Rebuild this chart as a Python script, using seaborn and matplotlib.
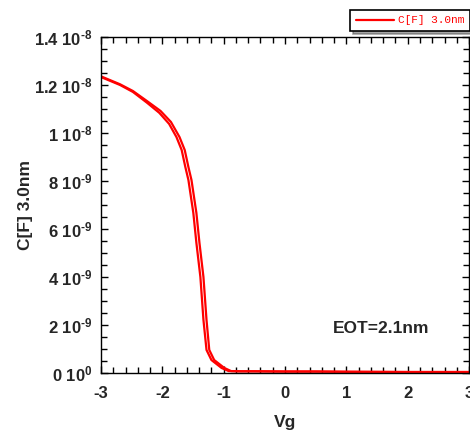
import numpy as np
import pandas as pd
import matplotlib
matplotlib.use("Agg")
import matplotlib.pyplot as plt
from matplotlib.ticker import FixedLocator, FixedFormatter, MultipleLocator
import seaborn as sns

# ------------------------------------------
# Data, C in units of 1e-9 F
# ------------------------------------------
vg_fwd = [-3.0, -2.69, -2.48, -2.25, -2.05, -1.89, -1.77, -1.685, -1.625, -1.575,
          -1.495, -1.445, -1.38, -1.33, -1.28, -1.20, -1.035, -0.92, -0.75,
          -0.5, 0.0, 0.5, 1.0, 2.0, 3.0]
c_fwd = [12.33, 12.00, 11.71, 11.26, 10.84, 10.38, 9.83, 9.29, 8.58, 8.04,
         6.67, 5.42, 4.00, 2.21, 0.96, 0.54, 0.21, 0.08, 0.07,
         0.07, 0.06, 0.06, 0.05, 0.04, 0.04]

vg_rev = [-3.0, -2.69, -2.48, -2.25, -2.03, -1.86, -1.72, -1.635, -1.575, -1.525,
          -1.445, -1.395, -1.33, -1.28, -1.235, -1.155, -0.99, -0.88, -0.72,
          -0.5, 0.0, 0.5, 1.0, 2.0, 3.0]
c_rev = [12.36, 12.03, 11.75, 11.33, 10.92, 10.46, 9.83, 9.29, 8.58, 8.04,
         6.67, 5.42, 4.00, 2.21, 0.96, 0.54, 0.21, 0.08, 0.07,
         0.07, 0.06, 0.06, 0.05, 0.04, 0.04]

y_ticks = [0, 2e-9, 4e-9, 6e-9, 8e-9, 1e-8, 1.2e-8, 1.4e-8]
y_labels = ["0 10$^{0}$", "2 10$^{\\text{-9}}$", "4 10$^{\\text{-9}}$", "6 10$^{\\text{-9}}$",
            "8 10$^{\\text{-9}}$", "1 10$^{\\text{-8}}$", "1.2 10$^{\\text{-8}}$",
            "1.4 10$^{\\text{-8}}$"]
x_ticks = [-3, -2, -1, 0, 1, 2, 3]

df = pd.concat([
    pd.DataFrame({"Vg": vg_fwd, "C": np.array(c_fwd) * 1e-9, "sweep": "fwd"}),
    pd.DataFrame({"Vg": vg_rev, "C": np.array(c_rev) * 1e-9, "sweep": "rev"}),
])

# ------------------------------------------
# Plot
# ------------------------------------------
sns.set_style("ticks")
plt.rcParams["font.family"] = ["Liberation Sans", "DejaVu Sans"]
plt.rcParams["mathtext.fontset"] = "custom"
plt.rcParams["mathtext.rm"] = "Liberation Sans:bold"
plt.rcParams["mathtext.default"] = "rm"

fig = plt.figure(figsize=(4.7, 4.3), dpi=100)
ax = fig.add_axes([0.2149, 0.1326, 0.7831, 0.7814])

sns.lineplot(data=df, x="Vg", y="C", hue="sweep", palette=["#ff0000", "#ff0000"],
             linewidth=1.6, legend=False, ax=ax, sort=False, estimator=None)

ax.set_xlim(-3, 3)
ax.set_ylim(0, 1.4e-8)
ax.xaxis.set_major_locator(FixedLocator(x_ticks))
ax.xaxis.set_minor_locator(MultipleLocator(0.2))
ax.yaxis.set_major_locator(FixedLocator(y_ticks))
ax.yaxis.set_major_formatter(FixedFormatter(y_labels))
ax.yaxis.set_minor_locator(MultipleLocator(5e-10))

ax.tick_params(which="both", direction="in", top=True, right=True, width=1, color="black")
ax.tick_params(which="major", length=5, labelsize=12)
ax.tick_params(which="minor", length=4)
ax.tick_params(axis="x", which="major", pad=9.5)
ax.tick_params(axis="y", which="major", pad=6)
ax.set_xticklabels([str(t) for t in x_ticks], fontweight="bold")
for lbl in ax.get_yticklabels():
    lbl.set_fontweight("bold")
for sp in ax.spines.values():
    sp.set_visible(True)
    sp.set_color("black")
    sp.set_linewidth(1)

ax.set_xlabel("Vg", fontsize=12.5, fontweight="bold", labelpad=10)
ax.set_ylabel("C[F] 3.0nm", fontsize=12.5, fontweight="bold", labelpad=1)

ax.text(0.63, 0.12, "EOT=2.1nm", transform=ax.transAxes, fontsize=12.5, fontweight="bold")

handle = ax.get_lines()[0]
leg = fig.legend([handle], ["C[F] 3.0nm"], loc="upper right", bbox_to_anchor=(1.0, 0.977),
                 prop={"family": "Liberation Mono", "size": 8}, frameon=True,
                 fancybox=False, shadow=True, handlelength=3.4, borderpad=0.5,
                 handletextpad=0.4, borderaxespad=0)
leg.get_frame().set_edgecolor("black")
leg.get_frame().set_linewidth(1.2)
for t in leg.get_texts():
    t.set_color("#ff0000")

fig.savefig("out.png", dpi=100)
